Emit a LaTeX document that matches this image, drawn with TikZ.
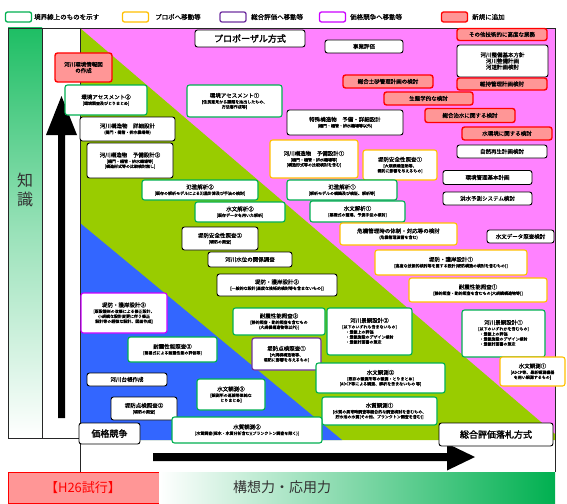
\documentclass[tikz,border=0pt]{standalone}
\usepackage{fontspec}
\setmainfont{Noto Sans CJK JP}
\newfontfamily\jpb[FakeBold=2]{Noto Sans CJK JP}
\newfontfamily\jpm[FakeBold=0.8]{Noto Sans CJK JP}
\definecolor{cpink}{RGB}{255,130,255}
\definecolor{cgreen}{RGB}{153,204,0}
\definecolor{cblue}{RGB}{51,102,255}
\definecolor{cgrn}{RGB}{0,176,80}
\definecolor{corg}{RGB}{255,192,0}
\definecolor{cpur}{RGB}{112,48,160}
\definecolor{cmag}{RGB}{204,0,255}
\definecolor{cred}{RGB}{255,0,0}
\definecolor{crfill}{RGB}{255,150,150}
\definecolor{cstrip}{RGB}{30,190,100}
\newcommand{\ttl}[1]{{\fontsize{5.5}{6}\selectfont #1}}
\begin{document}
\begin{tikzpicture}[x=1pt,y=-1pt,
  bx/.style={rounded corners=2.5pt,line width=1.1pt,fill=white,align=center,inner sep=0.5pt,font=\jpm\fontsize{4}{5}\selectfont},
  gbox/.style={bx,draw=cgrn},
  obox/.style={bx,draw=corg},
  pbox/.style={bx,draw=cpur},
  mbox/.style={bx,draw=cmag},
  rbox/.style={bx,draw=cred,fill=crfill,line width=1.4pt},
  kbox/.style={bx,draw=black,line width=0.9pt},
  lbl/.style={bx,draw=black,line width=0.9pt,font=\jpb\fontsize{9}{10}\selectfont},
  leg/.style={rounded corners=2pt,line width=1.3pt,minimum width=26,minimum height=10},
  legt/.style={anchor=west,font=\jpm\fontsize{6.5}{7}\selectfont,inner sep=0},
  frame/.style={black!85,line width=0.8pt}
]
\useasboundingbox (0,0) rectangle (567,503);
\fill[white] (0,0) rectangle (567,503);
% legend
\node[leg,draw=cgrn] (l1) at (18.5,17) {};
\node[legt] (l1t) at (34,17) {境界線上のものを示す};
\node[leg,draw=corg] (l2) at (135.5,17) {};
\node[legt] (l2t) at (155,17) {プロポへ移動等};
\node[leg,draw=cpur] (l3) at (233,17) {};
\node[legt] (l3t) at (251,17) {総合評価へ移動等};
\node[leg,draw=cmag] (l4) at (332.5,17) {};
\node[legt] (l4t) at (350,17) {価格競争へ移動等};
\node[leg,draw=cred,fill=crfill] (l5) at (454.5,17) {};
\node[legt] (l5t) at (472,17) {新規に追加};
% backgrounds
\shade[top color=cstrip,bottom color=white,middle color=cstrip!45] (8,28) rectangle (42,438);
\fill[white] (42,28) rectangle (80,438);
\fill[cpink] (80,28) rectangle (555,440);
\fill[cgreen] (80,28) -- (555,434) -- (555,440) -- (80,440) -- cycle;
\fill[cblue] (80,223) -- (342,440) -- (80,440) -- cycle;
\draw[frame] (8,438) -- (8,28) -- (555,28) -- (555,472);
\draw[frame] (42,28) -- (42,438);
\draw[frame] (80,28) -- (80,472);
\draw[frame] (8,438) -- (80,438);
% bottom band
\fill[crfill,draw=cred,line width=0.8pt] (8,472) rectangle (159,503);
\shade[left color=white,right color=cgrn] (159,472) rectangle (555,503);
\node[text=cred,font=\fontsize{13}{14}\selectfont] (h26) at (83,488) {【H26試行】};
\node[text=black!80,font=\fontsize{14}{15}\selectfont] (xax) at (282,487) {構想力・応用力};
\node[text=black!80,font=\fontsize{16}{19}\selectfont,align=center] (yax) at (25,190) {知\\識};
% axis arrows
\fill[black] (58,418) -- (58,135) -- (46,135) -- (61.5,96) -- (77,135) -- (65,135) -- (65,418) -- cycle;
\fill[black] (153,453) -- (447,453) -- (447,443.5) -- (475,457) -- (447,470.5) -- (447,461) -- (153,461) -- cycle;
% method labels
\node[lbl,minimum width=110,minimum height=17] (prop) at (250,38.5) {プロポーザル方式};
\node[lbl,minimum width=61,minimum height=21] (kakaku) at (109.5,433.5) {価格競争};
\node[lbl,minimum width=114,minimum height=23] (sogo) at (496,434.5) {総合評価落札方式};
% boxes
\node[rbox,minimum width=90,minimum height=12] (n1) at (502,34.5) {\ttl{その他技術的に高度な業務}};
\node[kbox,minimum width=91,minimum height=32] (n2) at (502.5,61) {\ttl{河川整備基本方針}\\\ttl{河川整備計画}\\\ttl{河道計画検討}};
\node[rbox,minimum width=90,minimum height=12] (n3) at (502,84) {\ttl{維持管理計画検討}};
\node[kbox,minimum width=78,minimum height=13] (n4) at (364,46.5) {\ttl{事業評価}};
\node[rbox,minimum width=90,minimum height=13] (n5) at (388,81.5) {\ttl{総合土砂管理計画の検討}};
\node[rbox,minimum width=89,minimum height=13] (n6) at (428.5,98.5) {\ttl{生態学的な検討}};
\node[rbox,minimum width=90,minimum height=14] (n7) at (470,115.5) {\ttl{総合治水に関する検討}};
\node[rbox,minimum width=90,minimum height=13] (n8) at (507,133.5) {\ttl{水環境に関する検討}};
\node[kbox,minimum width=90,minimum height=13] (n9) at (502,151.5) {\ttl{自然再生計画検討}};
\node[kbox,minimum width=89,minimum height=14] (n10) at (487.5,177.5) {\ttl{環境管理基本計画}};
\node[kbox,minimum width=89,minimum height=13] (n11) at (487.5,198.5) {\ttl{洪水予測システム検討}};
\node[kbox,minimum width=67,minimum height=13] (n12) at (520.5,236.5) {\ttl{水文データ照査検討}};
\node[rbox,minimum width=57,minimum height=29] (n13) at (83.5,67.5) {\ttl{河川環境情報図}\\\ttl{の作成}};
\node[gbox,minimum width=82,minimum height=30] (n14) at (106,100) {\ttl{環境アセスメント②}\\[0.8pt][環境調査及びとりまとめ]};
\node[gbox,minimum width=95,minimum height=32] (n15) at (234.5,101) {\ttl{環境アセスメント①}\\[0.8pt][住民意見から課題を抽出したもの、\\方法書作成等]};
\node[kbox,minimum width=95,minimum height=24] (n16) at (127.5,129) {\ttl{河川構造物　詳細設計}\\[0.8pt](樋門・樋管・排水機場等)};
\node[kbox,minimum width=116,minimum height=25] (n17) at (345,122.5) {\ttl{特殊構造物　予備・詳細設計}\\[0.8pt](樋門・樋管・排水機場等以外)};
\node[kbox,minimum width=86,minimum height=35] (n18) at (130,160.5) {\ttl{河川構造物　予備設計②}\\[0.8pt][樋門・樋管・排水機場等]\\{}[構造形式等の比較検討無し]};
\node[obox,minimum width=88,minimum height=38] (n19) at (314,159) {\ttl{河川構造物　予備設計①}\\[0.8pt][樋門・樋管・排水機場等]\\{}[構造形式等の比較検討を含む]};
\node[obox,minimum width=74,minimum height=30] (n20) at (400,165) {\ttl{堤防安全性照査①}\\[0.8pt][大規模構造物等、\\堤防に影響を与えるもの]};
\node[gbox,minimum width=116,minimum height=20] (n21) at (200,190) {\ttl{氾濫解析②}\\[0.8pt][既存の解析モデルによる氾濫計算及び手法の検討]};
\node[gbox,minimum width=110,minimum height=20] (n22) at (342,190) {\ttl{氾濫解析①}\\[0.8pt][解析モデルの構築及び検証、解析等]};
\node[gbox,minimum width=90,minimum height=20] (n23) at (240,212) {\ttl{水文解析②}\\[0.8pt][既存データを用いた解析]};
\node[gbox,minimum width=95,minimum height=21] (n24) at (357.5,211.5) {\ttl{水文解析①}\\[0.8pt][基礎式の整理、予測手法の検討]};
\node[kbox,minimum width=76,minimum height=23] (n25) at (220,238.5) {\ttl{堤防安全性照査②}\\[0.8pt][堤防の照査]};
\node[obox,minimum width=117,minimum height=22] (n26) at (398.5,234) {\ttl{危機管理時の体制・対応等の検討}\\[0.8pt](危機管理演習を含む)};
\node[kbox,minimum width=84,minimum height=15] (n27) at (250,259.5) {\ttl{河川水位の関係調査}};
\node[obox,minimum width=152,minimum height=25] (n28) at (451,262.5) {\ttl{堤防・護岸設計①}\\[0.8pt][高度な技術的検討等を要する設計(堤防構造の検討を含むもの)]};
\node[kbox,minimum width=120,minimum height=22] (n29) at (277,285) {\ttl{堤防・護岸設計②}\\[0.8pt][一般的な設計(高度な技術的検討等を含まないもの)]};
\node[obox,minimum width=138,minimum height=24] (n30) at (478,290) {\ttl{耐震性能照査①}\\[0.8pt][静的照査・動的照査を含むもの(大規模構造物等)]};
\node[mbox,minimum width=86,minimum height=40] (n31) at (124,313) {\ttl{堤防・護岸設計③}\\[0.8pt][既設護岸の改修による修正設計、\\小規模な設計変更に伴う修正\\設計等の軽微な設計、図面作成]};
\node[gbox,minimum width=92,minimum height=27] (n32) at (279,321.5) {\ttl{耐震性能照査②}\\[0.8pt][静的照査・動的照査を含むもの\\(大規模構造物等以外)]};
\node[gbox,minimum width=85,minimum height=47] (n33) at (369.5,331.5) {\ttl{河川景観設計②}\\[0.8pt][以下のいずれも含まないもの]\\\begin{tabular}{@{}l@{}}・景観上の評価\\・景観施設のデザイン検討\\・景観計画書の策定\end{tabular}};
\node[gbox,minimum width=83,minimum height=47] (n34) at (503.5,333.5) {\ttl{河川景観設計①}\\[0.8pt][以下のいずれかを含むもの]\\\begin{tabular}{@{}l@{}}・景観上の評価\\・景観施設のデザイン検討\\・景観計画書の策定\end{tabular}};
\node[gbox,minimum width=89,minimum height=25] (n35) at (172.5,349.5) {\ttl{耐震性能照査③}\\[0.8pt][簡易式による耐震性能の評価等]};
\node[pbox,minimum width=69,minimum height=32] (n36) at (286.5,354) {\ttl{堤防点検照査①}\\[0.8pt][大規模構造物等、\\堤防に影響を与えるもの]};
\node[obox,minimum width=65,minimum height=29] (n37) at (532.5,371.5) {\ttl{水文観測①}\\[0.8pt][ADCP等、最新観測機器\\を用い観測するもの]};
\node[gbox,minimum width=129,minimum height=30] (n38) at (380.5,378) {\ttl{水文観測②}\\[0.8pt][既存の観測所等の観測・とりまとめ]\\{}[ADCP等による観測、解析を含まないもの 等]};
\node[kbox,minimum width=80,minimum height=13] (n39) at (127,379.5) {\ttl{河川台帳作成}};
\node[gbox,minimum width=68,minimum height=31] (n40) at (231,394.5) {\ttl{水文観測③}\\[0.8pt][観測所の巡視等単純な\\とりまとめ]};
\node[kbox,minimum width=66,minimum height=23] (n41) at (144,408.5) {\ttl{堤防点検照査②}\\[0.8pt][堤防の照査]};
\node[gbox,minimum width=115,minimum height=28] (n42) at (379.5,411) {\ttl{水質観測①}\\[0.8pt][水質の異常時調査等総合的な調査検討を含むもの、\\貯水池の水質(その他、プランクトン調査を含む)]};
\node[gbox,minimum width=150,minimum height=26] (n43) at (247,430) {\ttl{水質観測②}\\[0.8pt][水質調査(採水・水質分析含む)(プランクトン調査を除く)]};
\end{tikzpicture}
\end{document}
